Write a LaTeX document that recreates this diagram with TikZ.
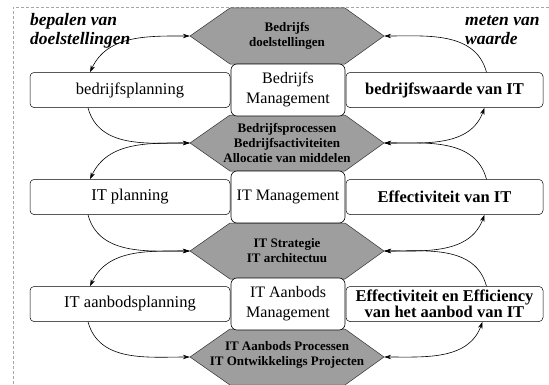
\documentclass[tikz,border=0pt]{standalone}
\usepackage{fontspec}
\setmainfont{Liberation Serif}
\usetikzlibrary{arrows.meta}
\tikzset{
  hexfill/.style={draw=black!80,fill=black!38,line width=0.5pt},
  hexa/.style={minimum width=194pt,minimum height=56pt,inner sep=0pt,
    align=center,font=\fontsize{13}{15}\selectfont\bfseries},
  planbox/.style={draw,rounded corners=4pt,fill=white,minimum width=200pt,
    minimum height=35pt,line width=0.5pt,font=\fontsize{16.5}{18}\selectfont},
  midbox/.style={draw,rounded corners=6pt,fill=white,minimum width=114pt,
    minimum height=52pt,align=center,line width=0.6pt,
    font=\fontsize{16}{20}\selectfont},
  valuebox/.style={planbox,minimum width=197pt,align=center,
    font=\fontsize{16.5}{16}\selectfont\bfseries},
  noteline/.style={anchor=base west,inner sep=0pt,
    font=\fontsize{17.5}{19}\selectfont\bfseries\itshape},
  link/.style={line width=0.6pt},
}
% six-sided band behind a middle label
\newcommand\hexband[1]{\filldraw[hexfill,shift={#1}](-97,0)--(-57,28)--(58,28)--(97,0)--(58,-28)--(-57,-28)--cycle;}
\begin{document}
\begin{tikzpicture}[x=1pt,y=1pt,line join=round,>={Stealth[length=7pt,width=4.5pt]}]
\useasboundingbox (0,0) rectangle (549,384);
\draw[gray!70,densely dashed,line width=0.4pt](13,0)--(13,377)--(549,377);

% hexagons in the middle column
\hexband{(287,348)}
\hexband{(287,241)}
\hexband{(287,133)}
\hexband{(287,27)}
\node[hexa] (h1) at (287,348) {Bedrijfs\\doelstellingen};
\node[hexa] (h2) at (287,241) {Bedrijfsprocessen\\Bedrijfsactiviteiten\\Allocatie van middelen};
\node[hexa] (h3) at (287,133) {IT Strategie\\IT architectuu};
\node[hexa] (h4) at (287,29) {IT Aanbods Processen\\IT Ontwikkelings Projecten};

% management boxes
\node[midbox] (m1) at (288,294) {Bedrijfs\\Management};
\node[midbox] (m2) at (288,187) {IT Management};
\node[midbox] (m3) at (288,80) {IT Aanbods\\Management};

% planning boxes
\node[planbox] (lb1) at (130,294) {bedrijfsplanning};
\node[planbox] (lb2) at (130,187) {IT planning};
\node[planbox] (lb3) at (130,80) {IT aanbodsplanning};

% value boxes
\node[valuebox] (rb1) at (444.5,294) {bedrijfswaarde van IT};
\node[valuebox] (rb2) at (444.5,187) {Effectiviteit van IT};
\node[valuebox] (rb3) at (444.5,80) {Effectiviteit en Efficiency\\van het aanbod van IT};

\node[noteline] (doel1) at (30,359) {bepalen van};
\node[noteline] (doel2) at (30,340) {doelstellingen};
\node[noteline] (meet1) at (465,359) {meten van};
\node[noteline] (meet2) at (465,340) {waarde};

% left cycle
\draw[link,<->](h1.west) to[out=180,in=65] ([xshift=-40pt]lb1.north);
\draw[link,->]([xshift=-42pt]lb1.south) to[out=-75,in=180] (h2.west);
\draw[link,<->](h2.west) to[out=180,in=65] ([xshift=-40pt]lb2.north);
\draw[link,->]([xshift=-42pt]lb2.south) to[out=-75,in=180] (h3.west);
\draw[link,<->](h3.west) to[out=180,in=65] ([xshift=-40pt]lb3.north);
\draw[link,->]([xshift=-42pt]lb3.south) to[out=-75,in=180] ([yshift=-2pt]h4.west);

% right cycle
\draw[link,->]([xshift=42pt]rb1.north) to[out=105,in=0] (h1.east);
\draw[link,<->]([xshift=40pt]rb1.south) to[out=-110,in=0] (h2.east);
\draw[link,->]([xshift=42pt]rb2.north) to[out=105,in=0] (h2.east);
\draw[link,<->]([xshift=40pt]rb2.south) to[out=-110,in=0] (h3.east);
\draw[link,->]([xshift=42pt]rb3.north) to[out=105,in=0] (h3.east);
\draw[link,<->]([xshift=38pt]rb3.south) to[out=-110,in=0] ([yshift=-2pt]h4.east);
\end{tikzpicture}
\end{document}
